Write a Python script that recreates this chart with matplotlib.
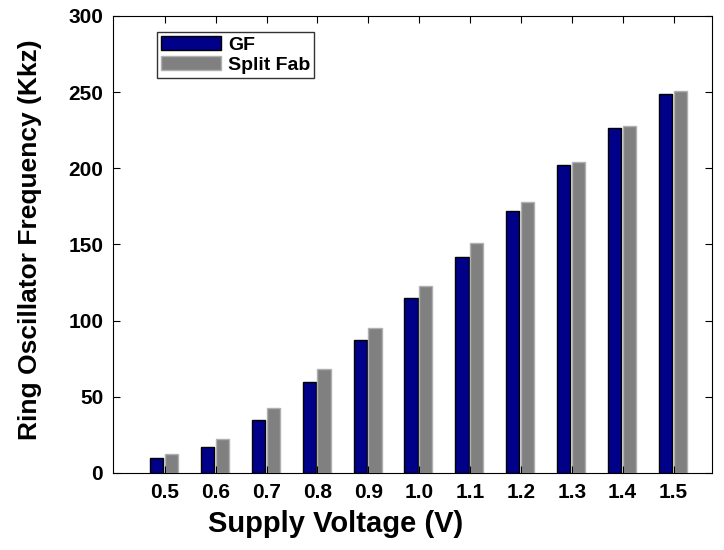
import matplotlib.pyplot as plt
import numpy as np

plt.rcParams['font.family'] = ['Liberation Sans', 'DejaVu Sans']
plt.rcParams['font.weight'] = 'bold'

voltages = ["0.5", "0.6", "0.7", "0.8", "0.9", "1.0", "1.1", "1.2", "1.3", "1.4", "1.5"]
gf = [10, 17, 35, 60, 87, 115, 142, 172, 202, 226.5, 249]
split_fab = [12.5, 22, 42.5, 68, 95, 123, 151, 178, 204, 227.5, 250.5]

x = np.arange(len(voltages))
fig = plt.figure(figsize=(7.24, 5.5), dpi=100)
ax = fig.add_axes([0.156, 0.14, 0.827, 0.831])

w = 0.26
ax.bar(x - 0.16, gf, width=w, color='#000088', edgecolor='black', linewidth=1.0, label='GF')
ax.bar(x + 0.13, split_fab, width=w, color='#808080', edgecolor='#b0b0b0', linewidth=1.0, label='Split Fab')

ax.set_xlim(-1.02, 10.75)
ax.set_ylim(0, 300)
ax.set_xticks(x)
ax.set_xticklabels(voltages)
ax.set_yticks(np.arange(0, 301, 50))
ax.tick_params(direction='in', top=True, right=True, labelsize=15, length=5)
ax.tick_params(axis='y', pad=7)
ax.tick_params(axis='x', pad=7)
for lab in ax.get_xticklabels() + ax.get_yticklabels():
    lab.set_fontweight('bold')

ax.set_xlabel("Supply Voltage (V)", fontsize=21, fontweight='bold')
ax.set_ylabel("Ring Oscillator Frequency (Kkz)", fontsize=19, fontweight='bold')
ax.xaxis.set_label_coords(0.372, -0.082)
ax.yaxis.set_label_coords(-0.118, 0.51)

leg = ax.legend(loc='upper left', bbox_to_anchor=(0.074, 0.965), fancybox=False,
                edgecolor='black', fontsize=14, handlelength=3.1, handleheight=0.75,
                borderpad=0.2, handletextpad=0.35, labelspacing=0.12, borderaxespad=0)
leg.get_frame().set_linewidth(1.0)

plt.savefig('out.png', dpi=100)
